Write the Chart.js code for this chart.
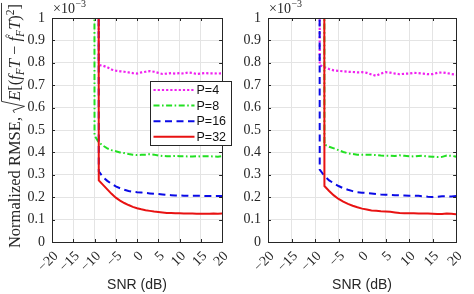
<!DOCTYPE html>
<html>
<head>
<meta charset="utf-8">
<script src="https://cdn.jsdelivr.net/npm/chart.js@4.4.0/dist/chart.umd.min.js"></script>
<style>
  html, body { margin: 0; padding: 0; background: #fff; }
  #wrap { position: relative; width: 474px; height: 294px; }
  canvas { position: absolute; top: 0; }
</style>
</head>
<body>
<div id="wrap">
  <canvas id="left" width="240" height="294" style="left:0"></canvas>
  <canvas id="right" width="234" height="294" style="left:240px"></canvas>
</div>
<script>
// SNR grid (dB); values are in units of 1e-3
const snr = [-11,-10,-9,-8,-7,-6,-5,-4,-3,-2,-1,0,1,2,3,4,5,6,7,8,9,10,11,12,13,14,15,16,17,18,19,20];
const xTicks = [-20,-15,-10,-5,0,5,10,15,20];
const yTicks = [0,0.1,0.2,0.3,0.4,0.5,0.6,0.7,0.8,0.9,1];
const yLabels = ['0','0.1','0.2','0.3','0.4','0.5','0.6','0.7','0.8','0.9','1'];
const seriesNames = ['P=4','P=8','P=16','P=32'];

// left panel
const leftP4  = [null,30,.79,.787,.78,.77,.765,.762,.76,.757,.754,.752,.757,.76,.763,.76,.755,.75,.752,.754,.752,.754,.752,.757,.755,.75,.752,.754,.753,.753,.752,.753];
const leftP8  = [30,.475,.445,.43,.418,.41,.405,.40,.397,.393,.39,.388,.389,.39,.392,.39,.386,.384,.383,.383,.384,.383,.383,.382,.382,.383,.382,.383,.383,.382,.381,.383];
const leftP16 = [null,30,.315,.29,.273,.26,.248,.24,.233,.228,.224,.222,.221,.219,.217,.215,.214,.212,.21,.209,.208,.208,.207,.207,.206,.206,.206,.205,.205,.205,.205,.205];
const leftP32 = [null,30,.275,.255,.235,.215,.198,.185,.174,.165,.157,.151,.146,.142,.139,.136,.134,.132,.130,.129,.128,.128,.127,.127,.127,.126,.126,.126,.126,.127,.126,.127];

// right panel
const rightP4  = [null,30,.79,.78,.772,.766,.764,.762,.76,.759,.757,.758,.755,.748,.742,.752,.758,.756,.752,.749,.751,.752,.755,.754,.752,.749,.749,.755,.757,.754,.75,.747];
const rightP8  = [null,null,30,.435,.425,.418,.41,.402,.396,.393,.39,.39,.39,.389,.388,.386,.385,.385,.384,.387,.385,.383,.382,.384,.385,.382,.381,.379,.38,.386,.385,.381];
const rightP16 = [null,30,.323,.295,.275,.262,.25,.24,.233,.227,.222,.22,.219,.217,.214,.212,.211,.21,.209,.208,.208,.207,.207,.206,.204,.202,.201,.202,.204,.204,.203,.205];
const rightP32 = [null,null,30,.25,.228,.208,.192,.18,.17,.162,.155,.149,.145,.141,.139,.137,.136,.135,.132,.129,.128,.128,.128,.127,.127,.127,.126,.125,.125,.127,.126,.124];

const styles = [
  { color: '#f020f0', dash: [2.2, 2.0], width: 2.2 },
  { color: '#22e022', dash: [6, 2.5, 1.6, 2.5], width: 2 },
  { color: '#0a0ae6', dash: [7, 4.5], width: 2 },
  { color: '#e81212', dash: [], width: 2 }
];

const SERIF = '"Liberation Serif", "Times New Roman", serif';
const SANS = '"Liberation Sans", Arial, sans-serif';
const AXIS = '#262626';

function drawYTitle(ctx, cx, cy) {
  const b = 16.5, s = 11.5;
  const parts = [
    { t: 'Normalized RMSE, ', f: b + 'px ' + SERIF },
    { rad: true, w: 12 },
    { t: 'E', f: 'italic ' + b + 'px ' + SERIF },
    { t: '[(', f: b + 'px ' + SERIF },
    { t: 'f', f: 'italic ' + b + 'px ' + SERIF },
    { t: 'F', f: 'italic ' + s + 'px ' + SERIF, dy: 3.5 },
    { t: 'T', f: 'italic ' + b + 'px ' + SERIF },
    { t: ' \u2212 ', f: b + 'px ' + SERIF },
    { t: 'f', f: 'italic ' + b + 'px ' + SERIF, hat: true },
    { t: 'F', f: 'italic ' + s + 'px ' + SERIF, dy: 3.5 },
    { t: 'T', f: 'italic ' + b + 'px ' + SERIF },
    { t: ')', f: b + 'px ' + SERIF },
    { t: '2', f: s + 'px ' + SERIF, dy: -6.5 },
    { t: ']', f: b + 'px ' + SERIF }
  ];
  ctx.save();
  let total = 0;
  parts.forEach(p => {
    if (p.rad) { total += p.w; return; }
    ctx.font = p.f;
    p.w = ctx.measureText(p.t).width;
    total += p.w;
  });
  ctx.translate(cx, cy);
  ctx.rotate(-Math.PI / 2);
  ctx.fillStyle = AXIS;
  ctx.strokeStyle = AXIS;
  ctx.textBaseline = 'alphabetic';
  const top = -18.5;
  let x = -total / 2, radX = 0;
  parts.forEach(p => {
    if (p.rad) {
      radX = x;
      ctx.lineWidth = 0.9;
      ctx.beginPath();
      ctx.moveTo(x, -5.5);
      ctx.lineTo(x + 2.5, -7);
      ctx.lineTo(x + 6.5, 4.5);
      ctx.lineTo(x + 11.5, top);
      ctx.stroke();
      x += p.w;
      return;
    }
    ctx.font = p.f;
    ctx.fillText(p.t, x, p.dy || 0);
    if (p.hat) {
      ctx.lineWidth = 0.8;
      ctx.beginPath();
      ctx.moveTo(x + 3.5, -12.5);
      ctx.lineTo(x + 5.5, -14.5);
      ctx.lineTo(x + 7.5, -12.5);
      ctx.stroke();
    }
    x += p.w;
  });
  ctx.lineWidth = 0.9;
  ctx.beginPath();
  ctx.moveTo(radX + 11.5, top);
  ctx.lineTo(x + 1, top);
  ctx.stroke();
  ctx.restore();
}

function makeDecor(withLegend, withTitle) {
  return {
    id: 'decor',
    afterDraw(chart) {
      const ctx = chart.ctx, a = chart.chartArea;
      const xs = chart.scales.x, ys = chart.scales.y;
      ctx.save();
      ctx.strokeStyle = AXIS;
      ctx.lineWidth = 1;
      ctx.beginPath();
      xTicks.forEach(v => {
        const px = Math.round(xs.getPixelForValue(v)) + 0.5;
        ctx.moveTo(px, a.bottom); ctx.lineTo(px, a.bottom - 3);
        ctx.moveTo(px, a.top); ctx.lineTo(px, a.top + 3);
      });
      yTicks.forEach(v => {
        const py = Math.round(ys.getPixelForValue(v)) + 0.5;
        ctx.moveTo(a.left, py); ctx.lineTo(a.left + 3, py);
        ctx.moveTo(a.right, py); ctx.lineTo(a.right - 3, py);
      });
      ctx.stroke();
      ctx.strokeRect(Math.round(a.left) + 0.5, Math.round(a.top) + 0.5,
        Math.round(a.right - a.left), Math.round(a.bottom - a.top));

      // exponent label
      ctx.fillStyle = AXIS;
      ctx.textBaseline = 'alphabetic';
      ctx.font = '14px ' + SERIF;
      ctx.fillText('\u00d710', a.left + 1, a.top - 5);
      const w = ctx.measureText('\u00d710').width;
      ctx.font = '10px ' + SERIF;
      ctx.fillText('\u22123', a.left + 1 + w + 0.5, a.top - 11);

      if (withLegend) {
        const bx = 150.5, by = 81.5, bw = 81, bh = 64;
        ctx.fillStyle = '#fff';
        ctx.fillRect(bx, by, bw, bh);
        ctx.strokeStyle = AXIS;
        ctx.lineWidth = 1;
        ctx.strokeRect(bx, by, bw, bh);
        seriesNames.forEach((name, i) => {
          const y = by + 8.5 + i * 15.6;
          const st = styles[i];
          ctx.strokeStyle = st.color;
          ctx.lineWidth = st.width;
          ctx.setLineDash(st.dash);
          ctx.beginPath();
          ctx.moveTo(bx + 3, y); ctx.lineTo(bx + 44, y);
          ctx.stroke();
          ctx.setLineDash([]);
          ctx.fillStyle = '#111';
          ctx.font = '12.5px ' + SANS;
          ctx.textBaseline = 'middle';
          ctx.fillText(name, bx + 46, y + 0.5);
        });
      }
      ctx.restore();
      if (withTitle) drawYTitle(ctx, 20, 126);
    }
  };
}

function makeChart(id, series, yWidth, padRight, withLegend, withTitle) {
  const datasets = series.map((vals, i) => ({
    label: seriesNames[i],
    data: snr.map((x, j) => ({ x: x, y: vals[j] })),
    borderColor: styles[i].color,
    borderDash: styles[i].dash,
    borderWidth: styles[i].width,
    borderCapStyle: 'butt',
    pointRadius: 0,
    tension: 0,
    fill: false,
    clip: 0,
    spanGaps: false,
    order: 3 - i
  }));
  return new Chart(document.getElementById(id), {
    type: 'line',
    data: { datasets: datasets },
    options: {
      responsive: false,
      animation: false,
      devicePixelRatio: 1,
      layout: { padding: { top: 18, right: padRight, left: 0, bottom: 0 } },
      plugins: { legend: { display: false }, tooltip: { enabled: false } },
      scales: {
        x: {
          type: 'linear', min: -20, max: 20,
          afterBuildTicks: s => { s.ticks = xTicks.map(v => ({ value: v })); },
          afterFit: s => { s.height = 52; },
          grid: { color: '#e4e4e4', drawTicks: false },
          border: { display: false },
          ticks: {
            font: { family: SERIF, size: 14 }, color: AXIS, autoSkip: false,
            minRotation: 45, maxRotation: 45, padding: 6, labelOffset: 4,
            callback: v => (v < 0 ? '\u2212' + Math.abs(v) : String(v))
          },
          title: {
            display: true, text: 'SNR (dB)', color: AXIS,
            font: { family: SANS, size: 14 }, padding: { top: 0, bottom: 0 }
          }
        },
        y: {
          min: 0, max: 1,
          afterBuildTicks: s => { s.ticks = yTicks.map(v => ({ value: v })); },
          afterFit: s => { s.width = yWidth; },
          grid: { color: '#e4e4e4', drawTicks: false },
          border: { display: false },
          ticks: {
            font: { family: SERIF, size: 14 }, color: AXIS, padding: 7, autoSkip: false,
            callback: (v, i) => yLabels[i]
          }
        }
      }
    },
    plugins: [makeDecor(withLegend, withTitle)]
  });
}

makeChart('left', [leftP4, leftP8, leftP16, leftP32], 52, 7, true, true);
makeChart('right', [rightP4, rightP8, rightP16, rightP32], 28, 11, false, false);
</script>
</body>
</html>
